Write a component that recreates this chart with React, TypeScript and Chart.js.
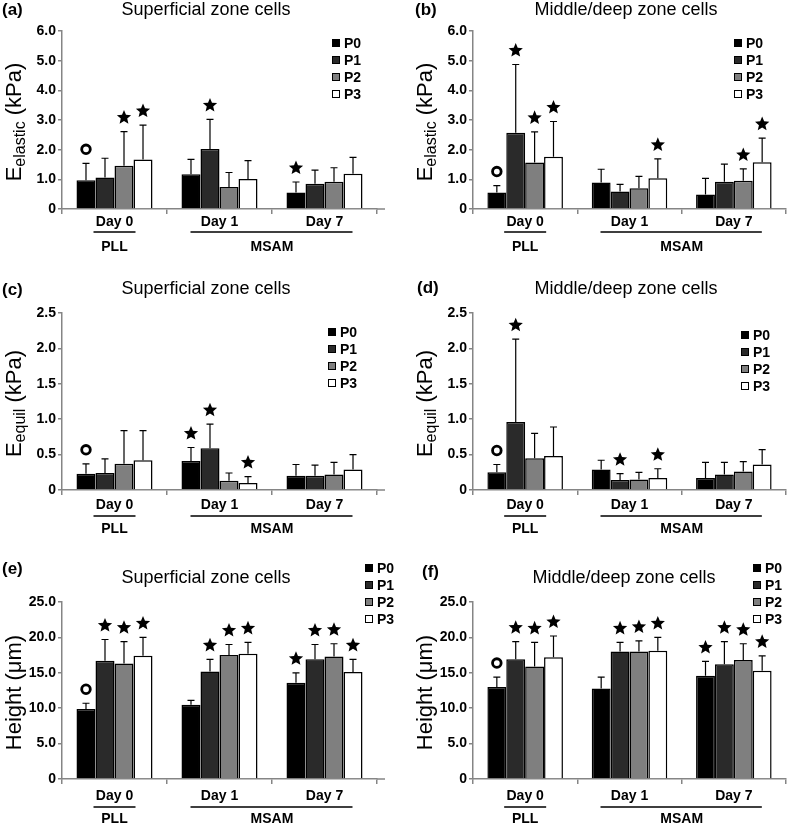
import React, { useEffect, useRef } from "react";
import { Chart, registerables } from "chart.js";
Chart.register(...registerables);

// ---------- data ----------
const categories = ["Day 0", "Day 1", "Day 7"];
const seriesNames = ["P0", "P1", "P2", "P3"];
const groupNames = ["PLL", "MSAM"];

const elasticTicks = ["0", "1.0", "2.0", "3.0", "4.0", "5.0", "6.0"];
const equilTicks = ["0", "0.5", "1.0", "1.5", "2.0", "2.5"];
const heightTicks = ["0", "5.0", "10.0", "15.0", "20.0", "25.0"];

// rows = series P0..P3, columns = Day 0, Day 1, Day 7
const aMean = [[0.97, 1.17, 0.56], [1.06, 2.02, 0.85], [1.46, 0.74, 0.92], [1.67, 1.01, 1.19]];
const aSD = [[0.57, 0.5, 0.35], [0.65, 1.0, 0.46], [1.15, 0.49, 0.47], [1.16, 0.62, 0.55]];
const aMarks = [["o", "", "*"], ["", "*", ""], ["*", "", ""], ["*", "", ""]];

const bMean = [[0.56, 0.89, 0.49], [2.57, 0.59, 0.92], [1.57, 0.7, 0.95], [1.76, 1.04, 1.58]];
const bSD = [[0.23, 0.45, 0.54], [2.3, 0.24, 0.59], [1.03, 0.4, 0.4], [1.19, 0.65, 0.81]];
const bMarks = [["o", "", ""], ["*", "", ""], ["*", "", "*"], ["*", "*", "*"]];

const cMean = [[0.23, 0.41, 0.2], [0.24, 0.59, 0.2], [0.37, 0.13, 0.22], [0.42, 0.1, 0.29]];
const cSD = [[0.14, 0.19, 0.16], [0.2, 0.34, 0.15], [0.47, 0.11, 0.17], [0.42, 0.09, 0.21]];
const cMarks = [["o", "*", ""], ["", "*", ""], ["", "", ""], ["", "*", ""]];

const dMean = [[0.25, 0.29, 0.17], [0.96, 0.14, 0.22], [0.45, 0.15, 0.26], [0.48, 0.17, 0.36]];
const dSD = [[0.11, 0.13, 0.22], [1.17, 0.09, 0.17], [0.35, 0.1, 0.14], [0.41, 0.13, 0.21]];
const dMarks = [["o", "", ""], ["*", "*", ""], ["", "", ""], ["", "*", ""]];

const eMean = [[9.9, 10.5, 13.6], [16.7, 15.2, 16.9], [16.3, 17.5, 17.3], [17.4, 17.7, 15.1]];
const eSD = [[0.8, 0.6, 1.4], [3.0, 1.7, 2.1], [3.1, 1.5, 1.8], [2.6, 1.6, 1.8]];
const eMarks = [["o", "", "*"], ["*", "*", "*"], ["*", "*", "*"], ["*", "*", "*"]];

const fMean = [[13.0, 12.8, 14.6], [16.9, 18.0, 16.2], [15.9, 18.0, 16.8], [17.2, 18.1, 15.3]];
const fSD = [[1.4, 1.6, 2.0], [2.5, 1.3, 3.2], [3.4, 1.5, 2.3], [3.0, 1.9, 2.1]];
const fMarks = [["o", "", "*"], ["*", "*", "*"], ["*", "*", "*"], ["*", "*", "*"]];

// ---------- styles / layout ----------
const FONT = "'Liberation Sans', Arial, Helvetica, sans-serif";
const seriesColors = ["#000000", "#2a2a2a", "#7f7f7f", "#ffffff"];
const axisColor = "#858585";

const rows = [
  { top: 0, h: 280, plotTop: 31, axisY: 209, tickPad: 0, lineY: 232, grpY: 247 },
  { top: 280, h: 275, plotTop: 33, axisY: 210, tickPad: 2, lineY: 236, grpY: 249 },
  { top: 555, h: 268, plotTop: 47, axisY: 224, tickPad: 4, lineY: 252, grpY: 264 },
];
const cols = [
  { left: 0, w: 400, plotLeft: 62, plotRight: 377, axisEnd: 385, yTitleX: 21 },
  { left: 390, w: 397, plotLeft: 83, plotRight: 396, axisEnd: 396, yTitleX: 42 },
];

const elasticTitle = [{ t: "E", s: 22 }, { t: "elastic", s: 16, sub: true }, { t: " (kPa)", s: 22 }];
const equilTitle = [{ t: "E", s: 22 }, { t: "equil", s: 16, sub: true }, { t: " (kPa)", s: 22 }];
const heightTitle = [{ t: "Height (\u03bcm)", s: 22 }];

const panels = [
  { label: "(a)", title: "Superficial zone cells", mean: aMean, sd: aSD, marks: aMarks, ticks: elasticTicks, max: 6, step: 1, yTitle: elasticTitle, row: 0, col: 0, legend: [332, 43], titlePos: [206, 10], labelPos: [2, 10] },
  { label: "(b)", title: "Middle/deep zone cells", mean: bMean, sd: bSD, marks: bMarks, ticks: elasticTicks, max: 6, step: 1, yTitle: elasticTitle, row: 0, col: 1, legend: [344, 43], titlePos: [236, 10], labelPos: [25, 10] },
  { label: "(c)", title: "Superficial zone cells", mean: cMean, sd: cSD, marks: cMarks, ticks: equilTicks, max: 2.5, step: 0.5, yTitle: equilTitle, row: 1, col: 0, legend: [328, 52], titlePos: [206, 9], labelPos: [2, 10] },
  { label: "(d)", title: "Middle/deep zone cells", mean: dMean, sd: dSD, marks: dMarks, ticks: equilTicks, max: 2.5, step: 0.5, yTitle: equilTitle, row: 1, col: 1, legend: [351, 55], titlePos: [236, 9], labelPos: [27, 8] },
  { label: "(e)", title: "Superficial zone cells", mean: eMean, sd: eSD, marks: eMarks, ticks: heightTicks, max: 25, step: 5, yTitle: heightTitle, row: 2, col: 0, legend: [365, 13], titlePos: [206, 23], labelPos: [2, 14] },
  { label: "(f)", title: "Middle/deep zone cells", mean: fMean, sd: fSD, marks: fMarks, ticks: heightTicks, max: 25, step: 5, yTitle: heightTitle, row: 2, col: 1, legend: [363, 13], titlePos: [234, 23], labelPos: [32, 17] },
];

function drawStar(ctx: CanvasRenderingContext2D, cx: number, cy: number, R: number) {
  const r = R * 0.45;
  ctx.beginPath();
  for (let i = 0; i < 10; i++) {
    const ang = -Math.PI / 2 + (i * Math.PI) / 5;
    const rr = i % 2 === 0 ? R : r;
    const x = cx + rr * Math.cos(ang);
    const y = cy + rr * Math.sin(ang);
    if (i === 0) ctx.moveTo(x, y);
    else ctx.lineTo(x, y);
  }
  ctx.closePath();
  ctx.fillStyle = "#000";
  ctx.fill();
}

function makeDecor(p: any) {
  const row = rows[p.row];
  const col = cols[p.col];
  return {
    id: "decor_" + p.label,
    afterDatasetsDraw(chart: any) {
      const ctx: CanvasRenderingContext2D = chart.ctx;
      const ys = chart.scales.y;
      ctx.save();
      for (let i = 0; i < seriesNames.length; i++) {
        const meta = chart.getDatasetMeta(i);
        meta.data.forEach((bar: any, j: number) => {
          const top = ys.getPixelForValue(p.mean[i][j] + p.sd[i][j]);
          const barTop = ys.getPixelForValue(p.mean[i][j]);
          const x = bar.x;
          ctx.strokeStyle = "#000";
          ctx.lineWidth = 1.2;
          ctx.beginPath();
          ctx.moveTo(x, barTop);
          ctx.lineTo(x, top);
          ctx.moveTo(x - 3.5, top);
          ctx.lineTo(x + 3.5, top);
          ctx.stroke();
          const m = p.marks[i][j];
          const my = top - 14;
          if (m === "*") drawStar(ctx, x, my, 7.5);
          else if (m === "o") {
            ctx.beginPath();
            ctx.lineWidth = 2.8;
            ctx.arc(x, my, 4.3, 0, Math.PI * 2);
            ctx.stroke();
          }
        });
      }
      ctx.restore();
    },
    afterDraw(chart: any) {
      const ctx: CanvasRenderingContext2D = chart.ctx;
      const xs = chart.scales.x;
      ctx.save();
      ctx.fillStyle = "#000";
      if (col.axisEnd > col.plotRight) {
        ctx.strokeStyle = axisColor;
        ctx.lineWidth = 1.5;
        ctx.beginPath();
        ctx.moveTo(col.plotRight, row.axisY);
        ctx.lineTo(col.axisEnd, row.axisY);
        ctx.stroke();
      }
      ctx.font = `bold 17px ${FONT}`;
      ctx.textBaseline = "middle";
      ctx.textAlign = "left";
      ctx.fillText(p.label, p.labelPos[0], p.labelPos[1]);
      ctx.font = `18px ${FONT}`;
      ctx.textAlign = "center";
      ctx.fillText(p.title, p.titlePos[0], p.titlePos[1]);
      ctx.font = `bold 14px ${FONT}`;
      ctx.textAlign = "left";
      seriesNames.forEach((name, i) => {
        const y = p.legend[1] + i * 17;
        ctx.fillStyle = seriesColors[i];
        ctx.fillRect(p.legend[0], y - 4, 8, 8);
        ctx.strokeStyle = "#000";
        ctx.lineWidth = 1;
        ctx.strokeRect(p.legend[0] + 0.5, y - 3.5, 7, 7);
        ctx.fillStyle = "#000";
        ctx.fillText(name, p.legend[0] + 12, y + 1);
      });
      ctx.save();
      const cy = (row.plotTop + row.axisY) / 2 + 2;
      ctx.translate(col.yTitleX, cy);
      ctx.rotate(-Math.PI / 2);
      ctx.textBaseline = "alphabetic";
      ctx.textAlign = "left";
      let total = 0;
      p.yTitle.forEach((part: any) => {
        ctx.font = `${part.s}px ${FONT}`;
        total += ctx.measureText(part.t).width;
      });
      let tx = -total / 2;
      p.yTitle.forEach((part: any) => {
        ctx.font = `${part.s}px ${FONT}`;
        ctx.fillText(part.t, tx, part.sub ? 4 : 0);
        tx += ctx.measureText(part.t).width;
      });
      ctx.restore();
      const c0 = xs.getPixelForValue(0);
      const c1 = xs.getPixelForValue(1);
      const c2 = xs.getPixelForValue(2);
      ctx.strokeStyle = "#000";
      ctx.lineWidth = 1.5;
      ctx.beginPath();
      ctx.moveTo(c0 - 21, row.lineY);
      ctx.lineTo(c0 + 21, row.lineY);
      ctx.moveTo(c1 - 29, row.lineY);
      ctx.lineTo(c2 + 28, row.lineY);
      ctx.stroke();
      ctx.font = `bold 14px ${FONT}`;
      ctx.textAlign = "center";
      ctx.textBaseline = "middle";
      ctx.fillText(groupNames[0], c0, row.grpY);
      ctx.fillText(groupNames[1], (c1 + c2) / 2, row.grpY);
      ctx.restore();
    },
  };
}

function Panel({ p }: { p: any }) {
  const ref = useRef<HTMLCanvasElement | null>(null);
  const row = rows[p.row];
  const col = cols[p.col];
  useEffect(() => {
    const chart = new Chart(ref.current as HTMLCanvasElement, {
      type: "bar",
      data: {
        labels: categories,
        datasets: seriesNames.map((name, i) => ({
          label: name,
          data: p.mean[i],
          backgroundColor: seriesColors[i],
          borderColor: "#000",
          borderWidth: 1.5,
          categoryPercentage: 0.724,
          barPercentage: 1,
        })),
      },
      options: {
        responsive: false,
        animation: false,
        devicePixelRatio: 1,
        layout: { padding: { left: 0, right: col.w - col.plotRight, top: row.plotTop, bottom: 0 } },
        plugins: { legend: { display: false }, tooltip: { enabled: false }, title: { display: false } },
        scales: {
          x: {
            grid: { offset: true, drawOnChartArea: false, drawTicks: true, tickLength: 5, color: axisColor, lineWidth: 1.5 },
            border: { color: axisColor, width: 1.5 },
            ticks: { color: "#000", font: { family: FONT, size: 14, weight: "bold" }, padding: row.tickPad, maxRotation: 0 },
            afterFit: (s: any) => {
              s.height = row.h - row.axisY;
            },
          },
          y: {
            min: 0,
            max: p.max,
            ticks: {
              stepSize: p.step,
              color: "#000",
              font: { family: FONT, size: 14, weight: "bold" },
              padding: 2,
              callback: (_v: any, i: number) => p.ticks[i],
            },
            grid: { drawOnChartArea: false, drawTicks: true, tickLength: 4, color: axisColor, lineWidth: 1.5 },
            border: { color: axisColor, width: 1.5 },
            afterFit: (s: any) => {
              s.width = col.plotLeft;
            },
          },
        },
      } as any,
      plugins: [makeDecor(p)],
    });
    return () => chart.destroy();
  }, []);
  return (
    <canvas
      ref={ref}
      width={col.w}
      height={row.h}
      style={{ position: "absolute", left: col.left, top: row.top, width: col.w, height: row.h }}
    />
  );
}

export default function App() {
  return (
    <div style={{ position: "absolute", left: 0, top: 0, width: 787, height: 823, background: "#fff", overflow: "hidden" }}>
      {panels.map((p) => (
        <Panel key={p.label} p={p} />
      ))}
    </div>
  );
}
